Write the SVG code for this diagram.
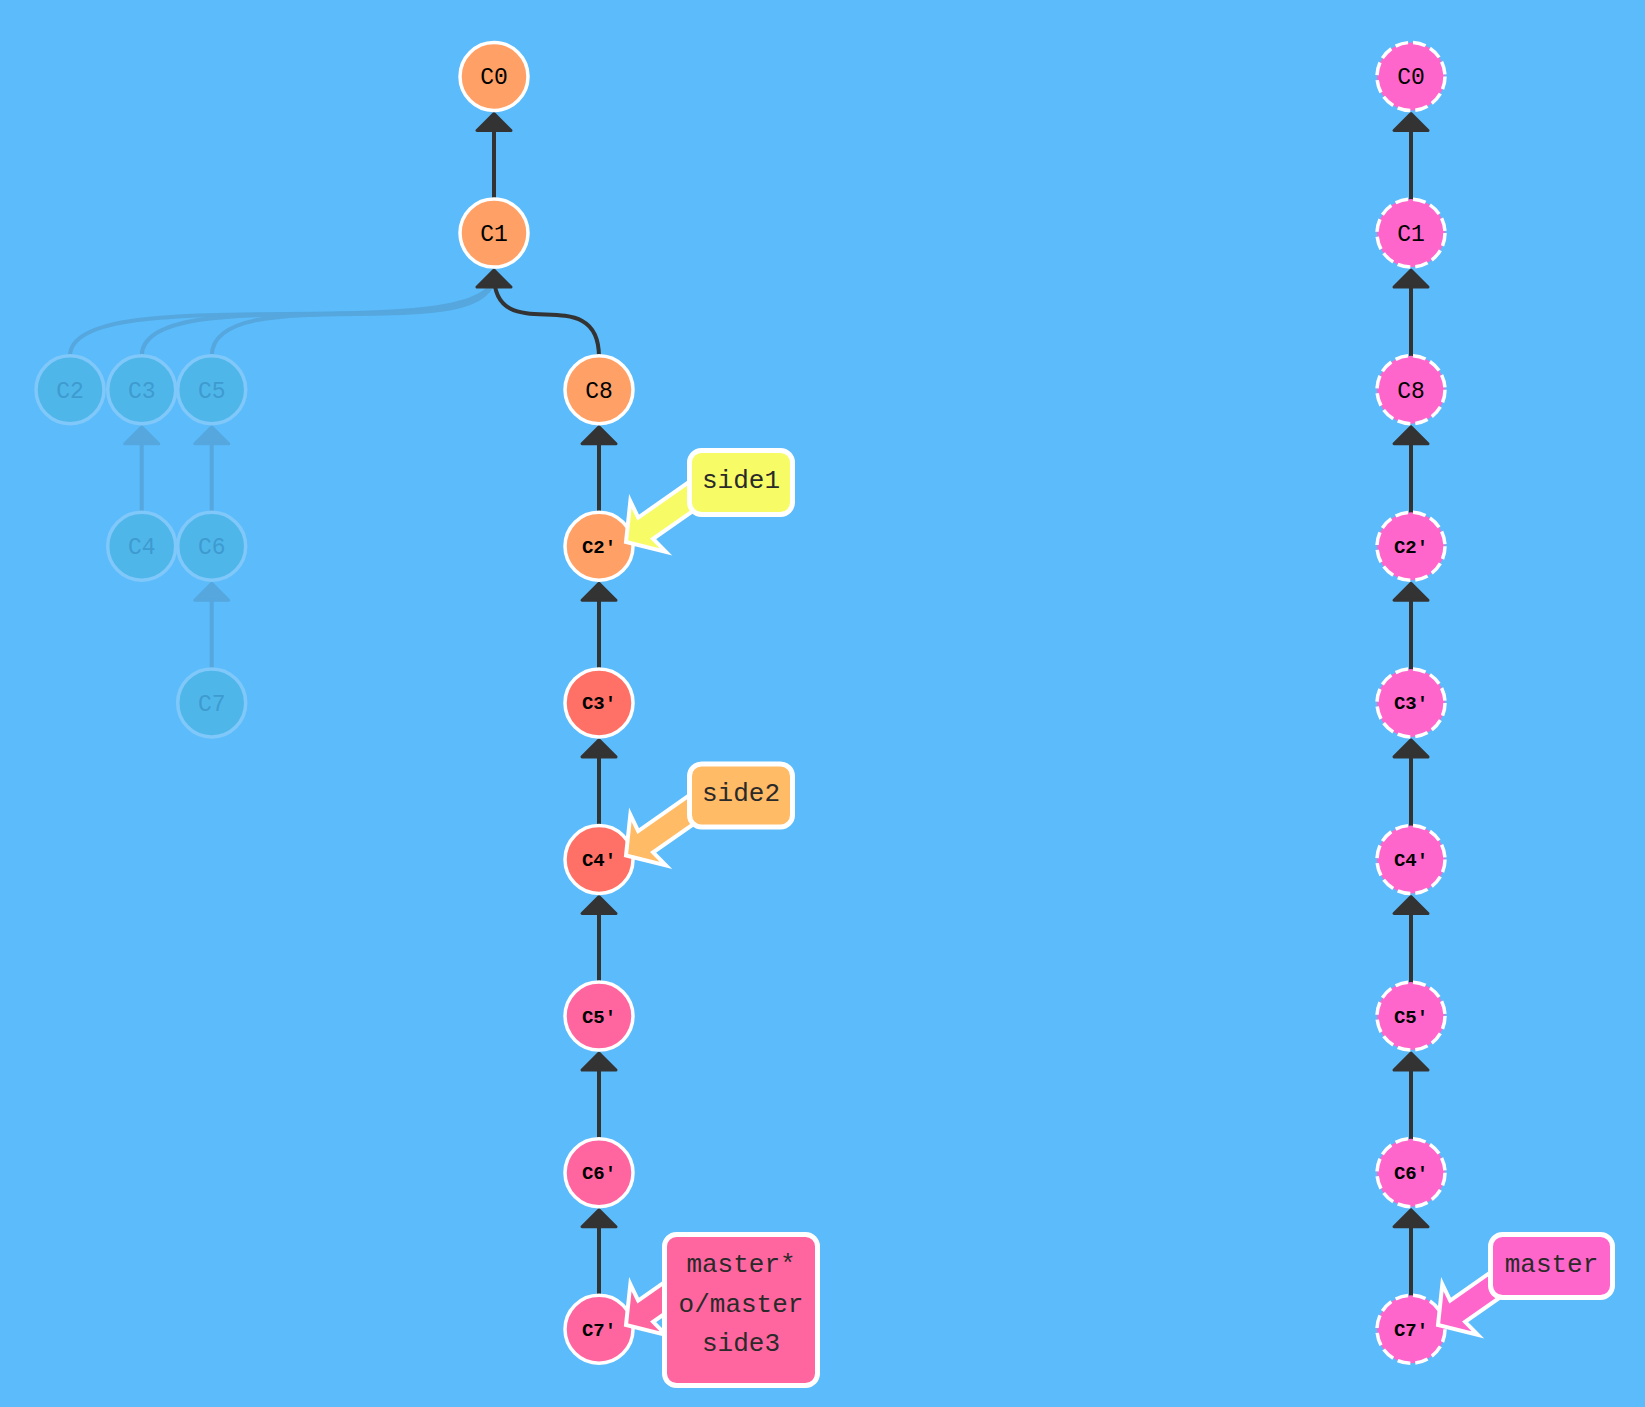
<svg xmlns="http://www.w3.org/2000/svg" width="1645" height="1407" viewBox="0 0 1645 1407">
<style>
.bg{fill:#5cbbfb}
.edge{fill:none;stroke:#333;stroke-width:4}
.head{fill:#333;stroke:#333;stroke-width:3;stroke-linejoin:round}
.gedge{fill:none;stroke:#55a7de;stroke-width:4}
.ghead{fill:#55a7de;stroke:#55a7de;stroke-width:3;stroke-linejoin:round}
.n{stroke:#fff;stroke-width:3.5}
.o{fill:#ffa066}
.r{fill:#ff7066}
.p{fill:#ff66a0}
.m{fill:#ff66cc;stroke-dasharray:13 5}
.g{fill:#4fb6ea;stroke:#7fc8f9;stroke-width:3.5}
.t{font-family:"Liberation Mono","Courier New",monospace;font-size:23px;text-anchor:middle;fill:#000}
.t3{font-size:19px;font-weight:bold}
.gt{fill:#3e9bd0}
.lbl{stroke:#fff;stroke-width:5}
.barrow{stroke:#fff;stroke-width:4}
.lt{font-family:"Liberation Mono","Courier New",monospace;font-size:26px;text-anchor:middle;fill:#2a2a2a}
</style>
<defs>
<path id="ba" d="M24,-13 L27,-31 L0,0 L27,31 L24,13 L95,13 L95,-13 Z"/>
</defs>
<rect class="bg" x="0" y="0" width="1645" height="1407"/>

<g id="connectors">
  <path class="gedge" d="M70,356 C70,276 494,351 494,275"/>
  <path class="gedge" d="M141.7,356 C141.7,276 494,351 494,275"/>
  <path class="gedge" d="M211.7,356 C211.7,276 494,351 494,275"/>
  <line class="gedge" x1="141.7" y1="516" x2="141.7" y2="435"/>
  <path class="ghead" d="M141.7,426.7 L124.7,443.7 L158.7,443.7 Z"/>
  <line class="gedge" x1="211.7" y1="516" x2="211.7" y2="435"/>
  <path class="ghead" d="M211.7,426.7 L194.7,443.7 L228.7,443.7 Z"/>
  <line class="gedge" x1="211.7" y1="673" x2="211.7" y2="592"/>
  <path class="ghead" d="M211.7,583.3 L194.7,600.3 L228.7,600.3 Z"/>

  <line class="edge" x1="494" y1="203" x2="494" y2="122"/>
  <path class="head" d="M494,113.5 L477,130.5 L511,130.5 Z"/>
  <path class="edge" d="M599,357 C599,277 494,351 494,275"/>
  <path class="head" d="M494,270.1 L477,287.1 L511,287.1 Z"/>
  <line class="edge" x1="599" y1="516" x2="599" y2="435"/>
  <path class="head" d="M599,426.7 L582,443.7 L616,443.7 Z"/>
  <line class="edge" x1="599" y1="673" x2="599" y2="592"/>
  <path class="head" d="M599,583.3 L582,600.3 L616,600.3 Z"/>
  <line class="edge" x1="599" y1="829" x2="599" y2="748"/>
  <path class="head" d="M599,739.9 L582,756.9 L616,756.9 Z"/>
  <line class="edge" x1="599" y1="986" x2="599" y2="905"/>
  <path class="head" d="M599,896.5 L582,913.5 L616,913.5 Z"/>
  <line class="edge" x1="599" y1="1143" x2="599" y2="1062"/>
  <path class="head" d="M599,1053.1 L582,1070.1 L616,1070.1 Z"/>
  <line class="edge" x1="599" y1="1299" x2="599" y2="1218"/>
  <path class="head" d="M599,1209.7 L582,1226.7 L616,1226.7 Z"/>

  <line class="edge" x1="1411" y1="203" x2="1411" y2="122"/>
  <path class="head" d="M1411,113.5 L1394,130.5 L1428,130.5 Z"/>
  <line class="edge" x1="1411" y1="360" x2="1411" y2="279"/>
  <path class="head" d="M1411,270.1 L1394,287.1 L1428,287.1 Z"/>
  <line class="edge" x1="1411" y1="516" x2="1411" y2="435"/>
  <path class="head" d="M1411,426.7 L1394,443.7 L1428,443.7 Z"/>
  <line class="edge" x1="1411" y1="673" x2="1411" y2="592"/>
  <path class="head" d="M1411,583.3 L1394,600.3 L1428,600.3 Z"/>
  <line class="edge" x1="1411" y1="829" x2="1411" y2="748"/>
  <path class="head" d="M1411,739.9 L1394,756.9 L1428,756.9 Z"/>
  <line class="edge" x1="1411" y1="986" x2="1411" y2="905"/>
  <path class="head" d="M1411,896.5 L1394,913.5 L1428,913.5 Z"/>
  <line class="edge" x1="1411" y1="1143" x2="1411" y2="1062"/>
  <path class="head" d="M1411,1053.1 L1394,1070.1 L1428,1070.1 Z"/>
  <line class="edge" x1="1411" y1="1299" x2="1411" y2="1218"/>
  <path class="head" d="M1411,1209.7 L1394,1226.7 L1428,1226.7 Z"/>
</g>

<g id="ghost-C2"><circle class="g" cx="70" cy="389.7" r="34"/><text class="t gt" x="70" y="397.5">C2</text></g>
<g id="ghost-C3"><circle class="g" cx="141.7" cy="389.7" r="34"/><text class="t gt" x="141.7" y="397.5">C3</text></g>
<g id="ghost-C5"><circle class="g" cx="211.7" cy="389.7" r="34"/><text class="t gt" x="211.7" y="397.5">C5</text></g>
<g id="ghost-C4"><circle class="g" cx="141.7" cy="546.3" r="34"/><text class="t gt" x="141.7" y="554.1">C4</text></g>
<g id="ghost-C6"><circle class="g" cx="211.7" cy="546.3" r="34"/><text class="t gt" x="211.7" y="554.1">C6</text></g>
<g id="ghost-C7"><circle class="g" cx="211.7" cy="702.9" r="34"/><text class="t gt" x="211.7" y="710.7">C7</text></g>

<g id="L-C0"><circle class="n o" cx="494" cy="76.5" r="34"/><text class="t" x="494" y="84.3">C0</text></g>
<g id="L-C1"><circle class="n o" cx="494" cy="233.1" r="34"/><text class="t" x="494" y="240.9">C1</text></g>
<g id="L-C8"><circle class="n o" cx="599" cy="389.7" r="34"/><text class="t" x="599" y="397.5">C8</text></g>
<g id="L-C2p"><circle class="n o" cx="599" cy="546.3" r="34"/><text class="t t3" x="599" y="552.8">C2'</text></g>
<g id="L-C3p"><circle class="n r" cx="599" cy="702.9" r="34"/><text class="t t3" x="599" y="709.4">C3'</text></g>
<g id="L-C4p"><circle class="n r" cx="599" cy="859.5" r="34"/><text class="t t3" x="599" y="866">C4'</text></g>
<g id="L-C5p"><circle class="n p" cx="599" cy="1016.1" r="34"/><text class="t t3" x="599" y="1022.6">C5'</text></g>
<g id="L-C6p"><circle class="n p" cx="599" cy="1172.7" r="34"/><text class="t t3" x="599" y="1179.2">C6'</text></g>
<g id="L-C7p"><circle class="n p" cx="599" cy="1329.3" r="34"/><text class="t t3" x="599" y="1335.8">C7'</text></g>

<g id="R-C0"><circle class="n m" cx="1411" cy="76.5" r="34"/><text class="t" x="1411" y="84.3">C0</text></g>
<g id="R-C1"><circle class="n m" cx="1411" cy="233.1" r="34"/><text class="t" x="1411" y="240.9">C1</text></g>
<g id="R-C8"><circle class="n m" cx="1411" cy="389.7" r="34"/><text class="t" x="1411" y="397.5">C8</text></g>
<g id="R-C2p"><circle class="n m" cx="1411" cy="546.3" r="34"/><text class="t t3" x="1411" y="552.8">C2'</text></g>
<g id="R-C3p"><circle class="n m" cx="1411" cy="702.9" r="34"/><text class="t t3" x="1411" y="709.4">C3'</text></g>
<g id="R-C4p"><circle class="n m" cx="1411" cy="859.5" r="34"/><text class="t t3" x="1411" y="866">C4'</text></g>
<g id="R-C5p"><circle class="n m" cx="1411" cy="1016.1" r="34"/><text class="t t3" x="1411" y="1022.6">C5'</text></g>
<g id="R-C6p"><circle class="n m" cx="1411" cy="1172.7" r="34"/><text class="t t3" x="1411" y="1179.2">C6'</text></g>
<g id="R-C7p"><circle class="n m" cx="1411" cy="1329.3" r="34"/><text class="t t3" x="1411" y="1335.8">C7'</text></g>

<g id="branch-side1">
  <use href="#ba" class="barrow" fill="#f7fc66" transform="translate(626,542) rotate(-35)"/>
  <rect class="lbl" x="689.5" y="450.5" width="103" height="64" rx="12" fill="#f7fc66"/>
  <text class="lt" x="741" y="488">side1</text>
</g>
<g id="branch-side2">
  <use href="#ba" class="barrow" fill="#ffbb66" transform="translate(626,855.5) rotate(-35)"/>
  <rect class="lbl" x="689.5" y="764" width="103" height="63" rx="12" fill="#ffbb66"/>
  <text class="lt" x="741" y="801.3">side2</text>
</g>
<g id="branch-master-local">
  <use href="#ba" class="barrow" fill="#ff66a0" transform="translate(626,1325) rotate(-35)"/>
  <rect class="lbl" x="664.5" y="1234.5" width="153" height="151" rx="12" fill="#ff66a0"/>
  <text class="lt" x="741" y="1272">master*</text>
  <text class="lt" x="741" y="1312">o/master</text>
  <text class="lt" x="741" y="1351">side3</text>
</g>
<g id="branch-master-remote">
  <use href="#ba" class="barrow" fill="#ff66cc" transform="translate(1438,1325) rotate(-35)"/>
  <rect class="lbl" x="1490.5" y="1234.5" width="122" height="63" rx="12" fill="#ff66cc"/>
  <text class="lt" x="1551.5" y="1271.5">master</text>
</g>
</svg>
